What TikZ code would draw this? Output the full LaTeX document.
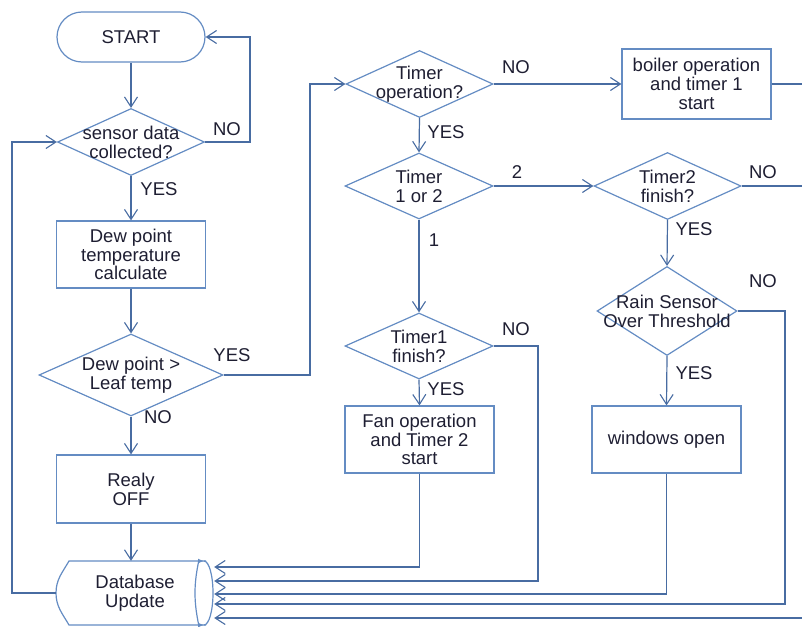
\documentclass[tikz,border=0pt]{standalone}
\usepackage{fontspec}
\setmainfont{Liberation Sans}
\usetikzlibrary{arrows.meta,shapes.geometric}
\definecolor{shapeblue}{RGB}{100,140,195}
\definecolor{lineblue}{RGB}{72,108,162}
\definecolor{txt}{RGB}{30,30,50}
\tikzset{
  every node/.style={font=\fontsize{18.5}{18.8}\selectfont, text=txt, align=center},
  boxnode/.style={draw=shapeblue, line width=1.2pt, rectangle, inner sep=0pt},
  decnode/.style={draw=shapeblue, line width=1.2pt, diamond, inner sep=0pt},
  termnode/.style={draw=shapeblue, line width=1.2pt, rectangle, rounded corners=25pt, inner sep=0pt},
  conn/.style={draw=lineblue, line width=1.2pt},
  arr/.style={conn, -{Straight Barb[length=10pt,width=13pt,line width=1.1pt]}},
  lbl/.style={inner sep=0pt}
}
\begin{document}
\begin{tikzpicture}[x=1pt,y=-1pt]
\useasboundingbox (0,0) rectangle (802,626);

% nodes
\node[termnode, minimum width=148pt, minimum height=50pt] (start) at (131,37) {START};
\node[decnode, minimum width=147pt, minimum height=67pt, label={[align=center]center:sensor data\\collected?}] (sensor) at (131,142) {};
\node[boxnode, minimum width=149pt, minimum height=67pt] (dewbox) at (131,254.5) {Dew point\\temperature\\calculate};
\node[decnode, minimum width=184pt, minimum height=82pt, label={[align=center]center:Dew point >\\Leaf temp}] (dew) at (131,375) {};
\node[boxnode, minimum width=149pt, minimum height=68pt] (relay) at (131,489) {Realy\\OFF};
\node[minimum width=158pt, minimum height=64pt, inner sep=0pt] (db) at (135,593) {Database\\Update};

\node[decnode, minimum width=147pt, minimum height=67pt, label={[align=center]center:Timer\\operation?}] (timop) at (419.5,84) {};
\node[boxnode, minimum width=149pt, minimum height=70pt] (boiler) at (696.5,84) {boiler operation\\and timer 1\\start};
\node[decnode, minimum width=148pt, minimum height=66pt, label={[align=center]center:Timer\\1 or 2}] (t12) at (419,186) {};
\node[decnode, minimum width=148pt, minimum height=66pt, label={[align=center]center:Timer1\\finish?}] (t1fin) at (419,346) {};
\node[boxnode, minimum width=149pt, minimum height=67pt] (fan) at (419.5,439.5) {Fan operation\\and Timer 2\\start};
\node[decnode, minimum width=147pt, minimum height=67pt, label={[align=center]center:Timer2\\finish?}] (t2fin) at (667.5,186) {};
\node[decnode, minimum width=140pt, minimum height=89pt, label={[align=center]center:Rain Sensor\\Over Threshold}] (rain) at (667,311) {};
\node[boxnode, minimum width=149pt, minimum height=67pt] (win) at (666.5,439.5) {windows open};

% database shape
\draw[draw=shapeblue, line width=1.2pt] (206,561) -- (69,561) to[out=240,in=90] (56,593) to[out=-90,in=120] (69,625) -- (206,625);
\draw[draw=shapeblue, line width=1.2pt] (204,561) arc[start angle=270, end angle=450, x radius=9, y radius=32];
\draw[draw=shapeblue, line width=1.2pt, {Latex[length=6pt,width=5pt]}-{Latex[length=6pt,width=5pt]}] (204,561) arc[start angle=270, end angle=90, x radius=9, y radius=32];

% coordinates
\coordinate (c1) at (310,84);
\coordinate (c2) at (250,37);
\coordinate (c3) at (12,142);
\coordinate (c4) at (538,346);
\coordinate (c5) at (785,311);
\coordinate (e1) at (802,84);
\coordinate (e2) at (802,186);
\coordinate (e3) at (802,618);

% connectors
\draw[arr] (start.south) -- (sensor.north);
\draw[arr] (sensor.south) -- (dewbox.north);
\draw[arr] (dewbox.south) -- (dew.north);
\draw[arr] (dew.south) -- (relay.north);
\draw[arr] (relay.south) -- (relay.south |- db.north);
\draw[arr] (sensor.east) -| (c2) -- (start.east);
\draw[arr] (db.west) -| (c3) -- (sensor.west);
\draw[arr] (dew.east) -| (c1) -- (timop.west);
\draw[arr] (timop.east) -- (boiler.west);
\draw[conn] (boiler.east) -- (e1);
\draw[arr] (timop.south) -- (t12.north);
\draw[arr] (t12.east) -- (t2fin.west);
\draw[arr] (t12.south) -- (t1fin.north);
\draw[arr] (t1fin.south) -- (fan.north);
\draw[conn] (t2fin.east) -- (e2);
\draw[arr] (t2fin.south) -- (rain.north);
\draw[arr] (rain.south) -- (win.north);
\draw[arr] (fan.south) |- ([yshift=26pt]db.east);
\draw[arr] (t1fin.east) -- (c4) |- ([yshift=12pt]db.east);
\draw[arr] (win.south) |- ([yshift=-1pt]db.east);
\draw[arr] (rain.east) -- (c5) |- ([yshift=-11pt]db.east);
\draw[arr] (e3) -- ([yshift=-25pt]db.east);

% labels
\node[lbl] (l1) at (227,129) {NO};
\node[lbl] (l2) at (159,189) {YES};
\node[lbl] (l3) at (232,355) {YES};
\node[lbl] (l4) at (158,417) {NO};
\node[lbl] (l5) at (516,67.5) {NO};
\node[lbl] (l6) at (446,132) {YES};
\node[lbl] (l7) at (517,172) {2};
\node[lbl] (l8) at (434,240) {1};
\node[lbl] (l9) at (516,329.5) {NO};
\node[lbl] (l10) at (446,389) {YES};
\node[lbl] (l11) at (763,172) {NO};
\node[lbl] (l12) at (694,229) {YES};
\node[lbl] (l13) at (763,281) {NO};
\node[lbl] (l14) at (694,373.5) {YES};
\end{tikzpicture}
\end{document}
